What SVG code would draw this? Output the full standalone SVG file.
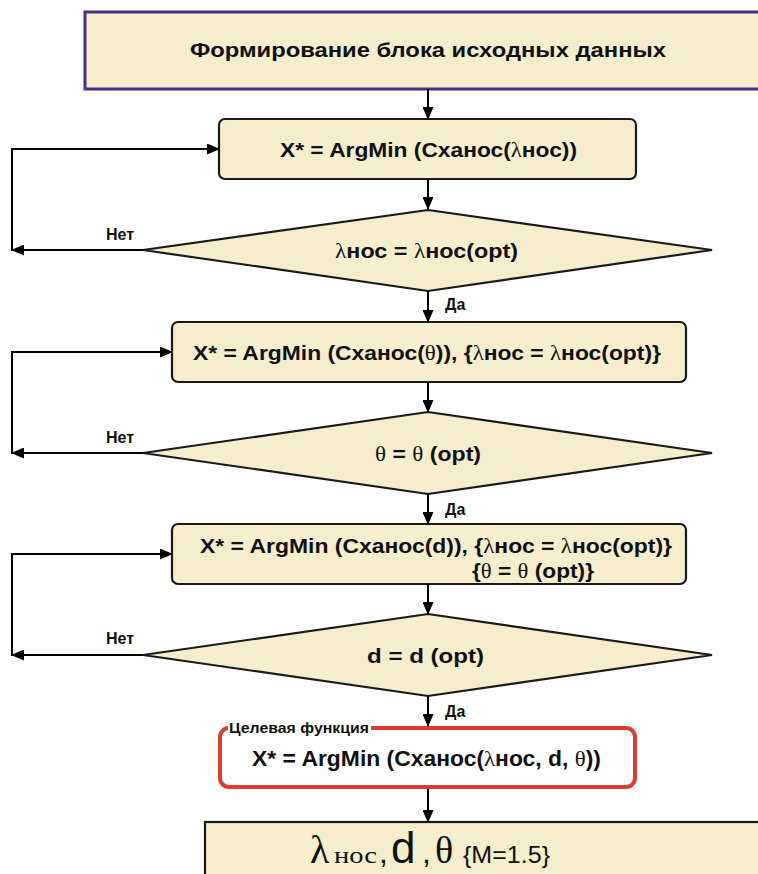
<svg xmlns="http://www.w3.org/2000/svg" width="758" height="874" viewBox="0 0 758 874">
  <defs>
    <marker id="arrow" markerWidth="13" markerHeight="11" refX="12" refY="5.5" orient="auto" markerUnits="userSpaceOnUse">
      <path d="M0,0 L13,5.5 L0,11 Z" fill="#000"/>
    </marker>
    <style>
      .box { fill: #f5edcc; stroke: #1a1a1a; stroke-width: 2.2; }
      .dia { fill: #f5edcc; stroke: #1a1a1a; stroke-width: 2.2; }
      .lbl { font-family: "Liberation Sans", "DejaVu Sans", sans-serif; font-weight: bold; fill: #111; }
      .sym { font-family: "Liberation Serif", "DejaVu Serif", serif; font-weight: normal; }
      .edge { fill: none; stroke: #000; stroke-width: 2; }
      .tag { font-family: "Liberation Sans", "DejaVu Sans", sans-serif; font-weight: bold; font-size: 16px; fill: #111; }
      .res { font-family: "Liberation Serif", "DejaVu Serif", serif; fill: #111; }
      .resans { font-family: "Liberation Sans", "DejaVu Sans", sans-serif; fill: #111; }
    </style>
  </defs>
  <rect width="758" height="874" fill="#fff"/>

  <g id="start">
    <rect x="85" y="12" width="680" height="77" fill="#f5edcc" stroke="#4a2e8a" stroke-width="3"/>
    <text class="lbl" x="428" y="57" font-size="20" text-anchor="middle" textLength="476" lengthAdjust="spacingAndGlyphs">Формирование блока исходных данных</text>
  </g>

  <g id="step1">
    <rect class="box" x="219" y="119" width="417" height="60" rx="6"/>
    <text class="lbl" x="280" y="157" font-size="21" textLength="297" lengthAdjust="spacingAndGlyphs">X* = ArgMin (Cxанос(<tspan class="sym">λ</tspan>нос))</text>
  </g>

  <g id="check1">
    <polygon class="dia" points="428,210 712,250 428,291 143,250"/>
    <text class="lbl" x="335" y="258" font-size="21" textLength="183" lengthAdjust="spacingAndGlyphs"><tspan class="sym">λ</tspan>нос = <tspan class="sym">λ</tspan>нос(opt)</text>
  </g>

  <g id="step2">
    <rect class="box" x="172" y="322" width="514" height="60" rx="6"/>
    <text class="lbl" x="193" y="360" font-size="21" textLength="468" lengthAdjust="spacingAndGlyphs">X* = ArgMin (Cxанос(<tspan class="sym">θ</tspan>)), {<tspan class="sym">λ</tspan>нос = <tspan class="sym">λ</tspan>нос(opt)}</text>
  </g>

  <g id="check2">
    <polygon class="dia" points="428,412 712,453 428,494 143,453"/>
    <text class="lbl" x="375" y="461" font-size="21" textLength="106" lengthAdjust="spacingAndGlyphs"><tspan class="sym">θ</tspan> = <tspan class="sym">θ</tspan> (opt)</text>
  </g>

  <g id="step3">
    <rect class="box" x="172" y="524" width="514" height="60" rx="6"/>
    <text class="lbl" x="200" y="553" font-size="21" textLength="472" lengthAdjust="spacingAndGlyphs">X* = ArgMin (Cxанос(d)), {<tspan class="sym">λ</tspan>нос = <tspan class="sym">λ</tspan>нос(opt)}</text>
    <text class="lbl" x="472" y="578" font-size="21" textLength="122" lengthAdjust="spacingAndGlyphs">{<tspan class="sym">θ</tspan> = <tspan class="sym">θ</tspan> (opt)}</text>
  </g>

  <g id="check3">
    <polygon class="dia" points="428,614 712,655 428,696 143,655"/>
    <text class="lbl" x="367" y="663" font-size="21" textLength="117" lengthAdjust="spacingAndGlyphs">d = d (opt)</text>
  </g>

  <g id="objective">
    <rect x="220" y="728" width="415" height="59" rx="9" fill="#fff" stroke="#e23a2e" stroke-width="4"/>
    <rect x="228" y="718" width="143" height="16" fill="#fff"/>
    <text class="lbl" x="229" y="733" font-size="15" textLength="140" lengthAdjust="spacingAndGlyphs">Целевая функция</text>
    <text class="lbl" x="252" y="766" font-size="22" textLength="349" lengthAdjust="spacingAndGlyphs">X* = ArgMin (Cxанос(<tspan class="sym">λ</tspan>нос, d, <tspan class="sym">θ</tspan>))</text>
  </g>

  <g id="result">
    <rect x="205" y="822" width="570" height="70" fill="#f5edcc" stroke="#1a1a1a" stroke-width="2.2"/>
    <text y="863">
      <tspan class="res" x="310" font-size="40">λ</tspan><tspan class="res" x="334" font-size="23" textLength="43" lengthAdjust="spacingAndGlyphs">нос</tspan><tspan class="resans" x="379" font-size="32">,</tspan><tspan class="resans" x="391" font-size="44">d</tspan><tspan class="resans" x="422" font-size="32">,</tspan><tspan class="res" x="435" font-size="38">θ</tspan><tspan class="resans" x="463" font-size="24" textLength="87" lengthAdjust="spacingAndGlyphs">{M=1.5}</tspan>
    </text>
  </g>

  <g id="connectors">
    <line class="edge" x1="428" y1="89" x2="428" y2="119" marker-end="url(#arrow)"/>
    <line class="edge" x1="428" y1="179" x2="428" y2="209" marker-end="url(#arrow)"/>
    <line class="edge" x1="428" y1="291" x2="428" y2="322" marker-end="url(#arrow)"/>
    <line class="edge" x1="428" y1="382" x2="428" y2="412" marker-end="url(#arrow)"/>
    <line class="edge" x1="428" y1="494" x2="428" y2="524" marker-end="url(#arrow)"/>
    <line class="edge" x1="428" y1="584" x2="428" y2="614" marker-end="url(#arrow)"/>
    <line class="edge" x1="428" y1="696" x2="428" y2="726" marker-end="url(#arrow)"/>
    <line class="edge" x1="428" y1="789" x2="428" y2="822" marker-end="url(#arrow)"/>

    <line class="edge" x1="143" y1="250" x2="12" y2="250" marker-end="url(#arrow)"/>
    <polyline class="edge" points="12,251 12,149 219,149" marker-end="url(#arrow)"/>
    <line class="edge" x1="143" y1="453" x2="12" y2="453" marker-end="url(#arrow)"/>
    <polyline class="edge" points="12,454 12,352 172,352" marker-end="url(#arrow)"/>
    <line class="edge" x1="143" y1="655" x2="12" y2="655" marker-end="url(#arrow)"/>
    <polyline class="edge" points="12,656 12,554 172,554" marker-end="url(#arrow)"/>

    <text class="tag" x="106" y="240">Нет</text>
    <text class="tag" x="106" y="443">Нет</text>
    <text class="tag" x="106" y="644">Нет</text>
    <text class="tag" x="445" y="310">Да</text>
    <text class="tag" x="445" y="515">Да</text>
    <text class="tag" x="445" y="717">Да</text>
  </g>
</svg>
